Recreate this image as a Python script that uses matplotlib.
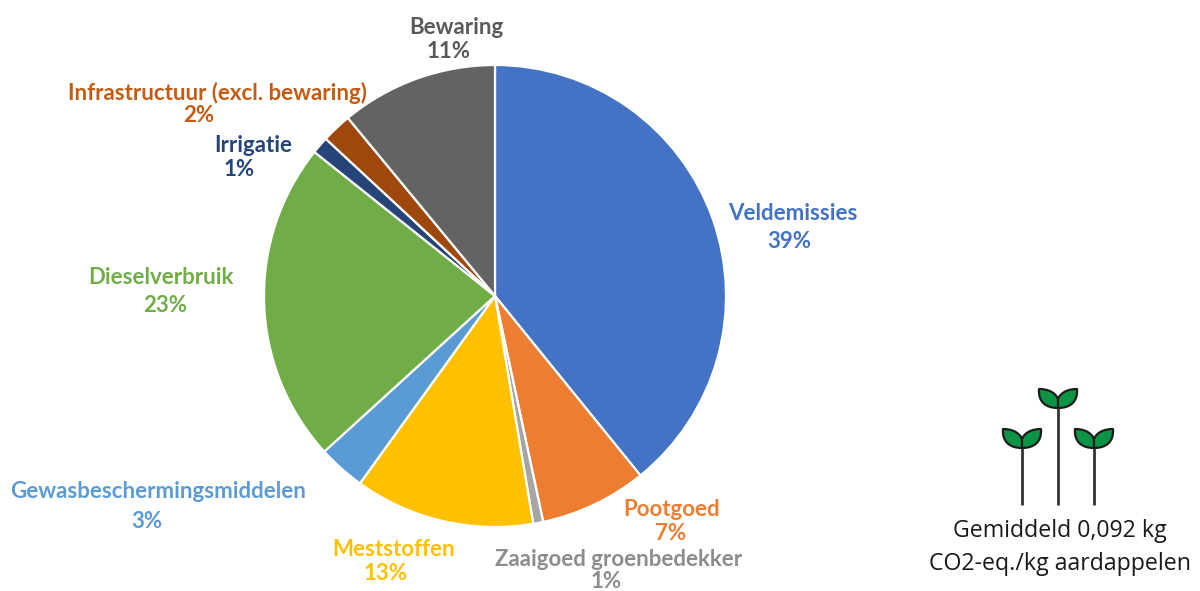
import matplotlib
matplotlib.use("Agg")
import matplotlib.pyplot as plt
from matplotlib.path import Path
from matplotlib.patches import PathPatch

categories = ["Veldemissies", "Pootgoed", "Zaaigoed groenbedekker", "Meststoffen",
              "Gewasbeschermingsmiddelen", "Dieselverbruik", "Irrigatie",
              "Infrastructuur (excl. bewaring)", "Bewaring"]
shares = [39.2, 7.5, 0.7, 12.6, 3.3, 22.5, 1.2, 2.1, 11.0]
percent_labels = ["39%", "7%", "1%", "13%", "3%", "23%", "1%", "2%", "11%"]
colors = ["#4472C4", "#ED7D31", "#A5A5A5", "#FFC000", "#5B9BD5",
          "#70AD47", "#264478", "#9E480E", "#636363"]
text_colors = ["#4472C4", "#ED7D31", "#8C8C8C", "#FFC000", "#5B9BD5",
               "#70AD47", "#264478", "#C55A11", "#595959"]
label_x = [793, 672, 619, 394, 158, 161, 253, 217, 456]
name_y = [213, 510, 559, 550, 492, 277, 146, 93, 28]
pct_y = [242, 534, 582, 573, 521, 305, 170, 116, 51]
pct_x = [789, 671, 606, 386, 147, 165, 239, 199, 449]
caption = ["Gemiddeld 0,092 kg", "CO2-eq./kg aardappelen"]

W, H = 1200, 591
FONT = ["Lato", "DejaVu Sans"]
fig = plt.figure(figsize=(12, 5.91), dpi=100, facecolor="white")

cx, cy, r = 495, 296, 231
ax = fig.add_axes([(cx - r) / W, (H - cy - r) / H, 2 * r / W, 2 * r / H])
ax.pie(shares, colors=colors, startangle=90, counterclock=False, radius=1,
       wedgeprops=dict(edgecolor="white", linewidth=1.6))
ax.set_xlim(-1, 1)
ax.set_ylim(-1, 1)
ax.set_aspect("equal")
for w in ax.patches:
    w.set_clip_on(False)

ov = fig.add_axes([0, 0, 1, 1])
ov.set_xlim(0, W)
ov.set_ylim(H, 0)
ov.axis("off")
ov.patch.set_alpha(0)

for name, pct, c, lx, px, ny, py in zip(categories, percent_labels, text_colors,
                                         label_x, pct_x, name_y, pct_y):
    ov.text(lx, ny, name, color=c, fontsize=16, fontweight="bold", family=FONT,
            ha="center", va="center")
    ov.text(px, py, pct, color=c, fontsize=16, fontweight="bold", family=FONT,
            ha="center", va="center")

for i, line in enumerate(caption):
    ov.text(1060, 531 + i * 33, line, color="#1A1A1A", fontsize=16.7, family=["Open Sans"],
            ha="center", va="center")

def leaf(x, y, side):
    verts = [(x, y), (x, y - 9),
             (x, y - 9), (x + side * 3, y - 19), (x + side * 19, y - 19),
             (x + side * 20, y - 6), (x + side * 12, y), (x, y), (x, y)]
    codes = [Path.MOVETO, Path.LINETO,
             Path.CURVE4, Path.CURVE4, Path.CURVE4,
             Path.CURVE4, Path.CURVE4, Path.CURVE4, Path.CLOSEPOLY]
    ov.add_patch(PathPatch(Path(verts, codes), facecolor="#0B9444", edgecolor="#1C1C1C",
                           linewidth=1.6, joinstyle="round"))

for x, top in [(1022, 448), (1058, 408), (1094, 448)]:
    ov.plot([x, x], [505, top], color="#333333", lw=2, solid_capstyle="butt")
    leaf(x, top, -1)
    leaf(x, top, 1)

fig.savefig("out.png", dpi=100)
